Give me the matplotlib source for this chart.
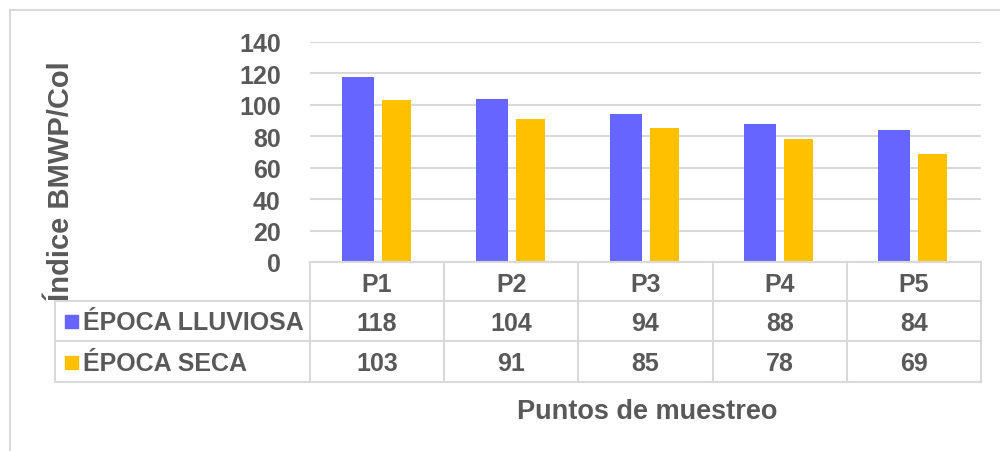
import matplotlib
matplotlib.use("Agg")
import matplotlib.pyplot as plt
from matplotlib.patches import Rectangle
from matplotlib.lines import Line2D
import numpy as np

plt.rcParams['font.family'] = ['Liberation Sans', 'DejaVu Sans']

categories = ["P1", "P2", "P3", "P4", "P5"]
series_names = ["ÉPOCA LLUVIOSA", "ÉPOCA SECA"]
lluviosa = [118, 104, 94, 88, 84]
seca = [103, 91, 85, 78, 69]
yticks = [0, 20, 40, 60, 80, 100, 120, 140]
ylabel = "Índice BMWP/Col"
xlabel = "Puntos de muestreo"

BLUE = "#6666FF"
YELLOW = "#FFC000"
TXT = "#595959"
GRID = "#D9D9D9"

W, H = 1000, 452
fig = plt.figure(figsize=(W / 100, H / 100), dpi=100)

def fx(px):
    return px / W

def fy(py):
    return 1 - py / H

# outer frame
fig.patches.append(Rectangle((fx(10), fy(470)), fx(1010) - fx(10), fy(11) - fy(470),
                             transform=fig.transFigure, fill=False, edgecolor=GRID, lw=1.5))

ax = fig.add_axes([fx(310), fy(263), fx(981) - fx(310), fy(43) - fy(263)])
x = np.arange(len(categories))
ax.bar(x - 0.145, lluviosa, width=0.238, color=BLUE, zorder=3)
ax.bar(x + 0.142, seca, width=0.216, color=YELLOW, zorder=3)
ax.set_xlim(-0.5, len(categories) - 0.5)
ax.set_ylim(0, 140)
ax.set_yticks(yticks)
ax.set_yticklabels([str(t) for t in yticks], fontsize=18, fontweight='bold', color=TXT)
ax.tick_params(axis='y', length=0, pad=21)
ax.set_xticks([])
for s in ax.spines.values():
    s.set_visible(False)
ax.grid(axis='y', color=GRID, lw=1.5, zorder=0)
ax.set_axisbelow(True)

# table
rows_y = [263, 302, 342, 383]
bounds = np.arange(len(categories) + 1) - 0.5
xmin_px, xmax_px = 310, 981
def dx(v):
    return fx(xmin_px + (v + 0.5) / len(categories) * (xmax_px - xmin_px))

lines = []
lines.append(Line2D([dx(-0.5), dx(4.5)], [fy(263), fy(263)]))
for ry in rows_y[1:]:
    lines.append(Line2D([fx(55), dx(4.5)], [fy(ry), fy(ry)]))
lines.append(Line2D([fx(55), fx(55)], [fy(302), fy(383)]))
for b in bounds:
    lines.append(Line2D([dx(b), dx(b)], [fy(263), fy(383)]))
for ln in lines:
    ln.set_transform(fig.transFigure)
    ln.set_color(GRID)
    ln.set_linewidth(1.5)
    fig.lines.append(ln)

tkw = dict(fontsize=18, fontweight='bold', color=TXT, ha='center', va='center')
for i, c in enumerate(categories):
    fig.text(dx(i), fy(285), c, **tkw)
    fig.text(dx(i), fy(324), str(lluviosa[i]), **tkw)
    fig.text(dx(i), fy(364), str(seca[i]), **tkw)

for name, col, cy in [(series_names[0], BLUE, 322), (series_names[1], YELLOW, 363)]:
    fig.patches.append(Rectangle((fx(65), fy(cy + 6.5)), fx(13), 13 / H,
                                 transform=fig.transFigure, color=col))
    fig.text(fx(83), fy(cy + 1), name, fontsize=18, fontweight='bold', color=TXT,
             ha='left', va='center')

fig.text(fx(647), fy(412), xlabel, fontsize=19.5, fontweight='bold', color=TXT,
         ha='center', va='center')
fig.text(fx(61), fy(181), ylabel, fontsize=21, fontweight='bold', color=TXT,
         ha='center', va='center', rotation=90)

fig.savefig("out.png", dpi=100, facecolor='white')
